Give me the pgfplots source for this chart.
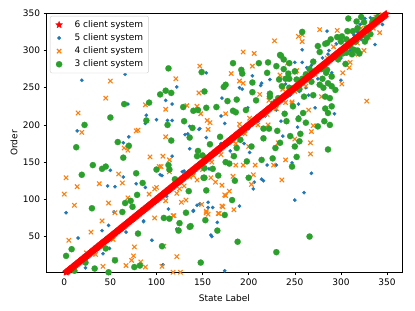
\documentclass[border=0pt]{standalone}
\usepackage{fontspec}
\setmainfont{DejaVu Sans}
\usepackage{pgfplots}
\pgfplotsset{compat=1.18}
\usepackage{pgfplotstable}
\definecolor{cfive}{HTML}{1F77B4}
\definecolor{cfour}{HTML}{FF7F0E}
\definecolor{cthree}{HTML}{2CA02C}
\pgfdeclareplotmark{fstar}{%
  \pgfpathmoveto{\pgfpointpolar{90}{\pgfplotmarksize}}%
  \pgfpathlineto{\pgfpointpolar{126}{0.45\pgfplotmarksize}}%
  \pgfpathlineto{\pgfpointpolar{162}{\pgfplotmarksize}}%
  \pgfpathlineto{\pgfpointpolar{198}{0.45\pgfplotmarksize}}%
  \pgfpathlineto{\pgfpointpolar{234}{\pgfplotmarksize}}%
  \pgfpathlineto{\pgfpointpolar{270}{0.45\pgfplotmarksize}}%
  \pgfpathlineto{\pgfpointpolar{306}{\pgfplotmarksize}}%
  \pgfpathlineto{\pgfpointpolar{342}{0.45\pgfplotmarksize}}%
  \pgfpathlineto{\pgfpointpolar{18}{\pgfplotmarksize}}%
  \pgfpathlineto{\pgfpointpolar{54}{0.45\pgfplotmarksize}}%
  \pgfpathclose
  \pgfusepathqfillstroke}
\pgfplotstableread[row sep=\\]{
x y\\
0 0\\1 1\\2 2\\3 3\\4 4\\5 5\\6 6\\7 7\\8 8\\9 9\\10 10\\11 11\\12 12\\13 13\\14 14\\15 15\\16 16\\17 17\\18 18\\19 19\\
20 20\\21 21\\22 22\\23 23\\24 24\\25 25\\26 26\\27 27\\28 28\\29 29\\30 30\\31 31\\32 32\\33 33\\34 34\\35 35\\36 36\\37 37\\38 38\\39 39\\
40 40\\41 41\\42 42\\43 43\\44 44\\45 45\\46 46\\47 47\\48 48\\49 49\\50 50\\51 51\\52 52\\53 53\\54 54\\55 55\\56 56\\57 57\\58 58\\59 59\\
60 60\\61 61\\62 62\\63 63\\64 64\\65 65\\66 66\\67 67\\68 68\\69 69\\70 70\\71 71\\72 72\\73 73\\74 74\\75 75\\76 76\\77 77\\78 78\\79 79\\
80 80\\81 81\\82 82\\83 83\\84 84\\85 85\\86 86\\87 87\\88 88\\89 89\\90 90\\91 91\\92 92\\93 93\\94 94\\95 95\\96 96\\97 97\\98 98\\99 99\\
100 100\\101 101\\102 102\\103 103\\104 104\\105 105\\106 106\\107 107\\108 108\\109 109\\110 110\\111 111\\112 112\\113 113\\114 114\\115 115\\116 116\\117 117\\118 118\\119 119\\
120 120\\121 121\\122 122\\123 123\\124 124\\125 125\\126 126\\127 127\\128 128\\129 129\\130 130\\131 131\\132 132\\133 133\\134 134\\135 135\\136 136\\137 137\\138 138\\139 139\\
140 140\\141 141\\142 142\\143 143\\144 144\\145 145\\146 146\\147 147\\148 148\\149 149\\150 150\\151 151\\152 152\\153 153\\154 154\\155 155\\156 156\\157 157\\158 158\\159 159\\
160 160\\161 161\\162 162\\163 163\\164 164\\165 165\\166 166\\167 167\\168 168\\169 169\\170 170\\171 171\\172 172\\173 173\\174 174\\175 175\\176 176\\177 177\\178 178\\179 179\\
180 180\\181 181\\182 182\\183 183\\184 184\\185 185\\186 186\\187 187\\188 188\\189 189\\190 190\\191 191\\192 192\\193 193\\194 194\\195 195\\196 196\\197 197\\198 198\\199 199\\
200 200\\201 201\\202 202\\203 203\\204 204\\205 205\\206 206\\207 207\\208 208\\209 209\\210 210\\211 211\\212 212\\213 213\\214 214\\215 215\\216 216\\217 217\\218 218\\219 219\\
220 220\\221 221\\222 222\\223 223\\224 224\\225 225\\226 226\\227 227\\228 228\\229 229\\230 230\\231 231\\232 232\\233 233\\234 234\\235 235\\236 236\\237 237\\238 238\\239 239\\
240 240\\241 241\\242 242\\243 243\\244 244\\245 245\\246 246\\247 247\\248 248\\249 249\\250 250\\251 251\\252 252\\253 253\\254 254\\255 255\\256 256\\257 257\\258 258\\259 259\\
260 260\\261 261\\262 262\\263 263\\264 264\\265 265\\266 266\\267 267\\268 268\\269 269\\270 270\\271 271\\272 272\\273 273\\274 274\\275 275\\276 276\\277 277\\278 278\\279 279\\
280 280\\281 281\\282 282\\283 283\\284 284\\285 285\\286 286\\287 287\\288 288\\289 289\\290 290\\291 291\\292 292\\293 293\\294 294\\295 295\\296 296\\297 297\\298 298\\299 299\\
300 300\\301 301\\302 302\\303 303\\304 304\\305 305\\306 306\\307 307\\308 308\\309 309\\310 310\\311 311\\312 312\\313 313\\314 314\\315 315\\316 316\\317 317\\318 318\\319 319\\
320 320\\321 321\\322 322\\323 323\\324 324\\325 325\\326 326\\327 327\\328 328\\329 329\\330 330\\331 331\\332 332\\333 333\\334 334\\335 335\\336 336\\337 337\\338 338\\339 339\\
340 340\\341 341\\342 342\\343 343\\344 344\\345 345\\346 346\\347 347\\348 348\\349 349\\
}\sixclient
\begin{document}
\begin{tikzpicture}
\useasboundingbox (-46bp,-38.3bp) rectangle (369bp,272.7bp);
\begin{axis}[
  at={(0,0)}, anchor=south west, scale only axis,
  width=356.7bp, height=259.4bp,
  xmin=-19.8, xmax=367, ymin=1.4, ymax=350,
  xtick={0,50,...,350}, ytick={50,100,...,350},
  tick align=outside, major tick length=2.4bp,
  every tick/.style={black, line width=0.55bp},
  axis line style={line width=0.6bp, black},
  tick pos=left,
  /pgf/number format/assume math mode=true,
  tick label style={font=\fontsize{9bp}{10bp}\selectfont},
  every axis x label/.style={at={(rel axis cs:0.5,-0.0987)}, anchor=center, font=\fontsize{9bp}{10bp}\selectfont},
  every axis y label/.style={at={(rel axis cs:-0.0897,0.5)}, anchor=center, rotate=90, font=\fontsize{9bp}{10bp}\selectfont},
  xlabel={State Label}, ylabel={Order},
  legend cell align=left,
  legend image code/.code={\path[draw=none,fill=none] (-6bp,-1bp) rectangle (6bp,1bp); \draw[#1,only marks] plot coordinates {(0bp,0bp)};},
  legend style={at={(0.011,0.99)}, anchor=north west, draw=black!20, rounded corners=2bp,
    font=\fontsize{9bp}{10bp}\selectfont, nodes={inner sep=2.4bp}, inner xsep=3bp, inner ysep=2.2bp,
    /tikz/every odd column/.append style={column sep=7bp}},
]
\addplot[only marks, mark=fstar, mark size=3.6bp, red, fill=red, line width=0.3bp] table {\sixclient};
\addlegendentry{6 client system}
\addplot[only marks, mark=*, mark size=1.75bp, cfive, fill=cfive, line width=0.2bp] coordinates {
(19,260) (66,268) (69,228) (14,192) (70,184) (64,176) (50,139) (64,130) (47,118) (78,121)
(54,83) (2,82) (48,65) (41,58) (67,56) (15,48) (49,34) (42,27) (23,8) (55,117)
(86,71) (111,104) (113,87) (95,45) (107,12) (124,60) (128,137) (140,85) (147,94) (160,50)
(104,133) (106,132) (117,158) (174,4) (159,52) (166,69) (190,91) (161,89) (156,96) (205,114)
(206,123) (216,125) (214,127) (250,99) (260,109) (268,135) (220,146) (230,146) (247,149) (136,168)
(88,116) (130,138) (157,141) (144,92) (156,89) (140,84) (86,70) (122,60) (154,270) (122,251)
(110,233) (117,228) (89,213) (100,207) (112,206) (117,206) (146,194) (134,188) (170,212) (204,266)
(214,256) (223,261) (190,250) (193,248) (250,284) (258,301) (263,277) (285,326) (295,309) (337,308)
(286,295) (293,215) (258,284) (213,253) (254,228) (171,236) (199,223) (237,185) (254,211) (253,197)
(154,183) (174,202) (201,163) (272,223) (321,335) (332,344) (314,321) (88,202) (136,198) (147,195)
(131,187) (230,220) (245,240) (262,250) (275,262) (300,290) (310,300) (322,315) (330,330) (340,340)
(300,260) (318,325) (326,343) (345,335) (290,270) (280,290) (265,240) (235,205) (218,212) (200,195)
(185,185) (170,175) (180,165) (195,175) (210,205) (225,230) (240,255) (255,245) (268,280) (287,300)
};
\addlegendentry{5 client system}
\addplot[only marks, mark=x, mark size=3.1bp, cfour, line width=1.1bp] coordinates {
(50,259) (45,236) (15,216) (19,190) (78,192) (65,169) (69,166) (59,134) (2,129) (14,117)
(38,121) (63,122) (0,107) (11,92) (48,95) (69,102) (55,82) (41,71) (29,56) (5,45)
(53,46) (24,28) (34,26) (42,10) (55,19) (67,11) (73,18) (75,24) (76,36) (88,9)
(92,107) (98,114) (105,144) (107,158) (98,75) (108,37) (106,10) (122,23) (126,2) (127,96)
(132,99) (119,78) (125,114) (144,126) (149,93) (168,81) (154,82) (184,86) (172,90) (179,111)
(174,106) (203,120) (183,131) (236,126) (205,133) (186,146) (194,146) (207,146) (227,146) (240,153)
(267,161) (93,157) (114,153) (103,144) (114,137) (100,116) (136,130) (159,129) (164,123) (171,119)
(175,105) (154,84) (171,91) (156,80) (167,81) (118,78) (83,16) (118,2) (147,279) (121,262)
(146,243) (88,227) (110,221) (133,226) (144,225) (148,215) (155,206) (158,203) (175,215) (110,184)
(80,193) (156,194) (254,319) (228,313) (194,298) (206,296) (242,283) (204,279) (181,269) (251,271)
(190,259) (194,256) (237,248) (212,241) (222,233) (247,231) (190,201) (277,328) (296,327) (298,317)
(310,284) (309,277) (301,255) (328,232) (258,321) (258,312) (342,324) (252,273) (234,267) (237,251)
(247,229) (265,220) (279,238) (270,199) (268,191) (267,176) (250,181) (232,176) (221,200) (201,209)
(191,195) (183,159) (200,171) (310,325) (318,310) (335,330) (340,338) (330,318) (325,300) (300,300)
(292,305) (285,290) (272,268) (262,252) (250,245) (240,230) (230,222) (220,214) (210,200) (196,188)
(186,175) (170,160) (160,150) (150,140) (140,132) (130,118) (122,108) (110,98) (290,265) (302,270)
(315,295) (345,348) (338,345) (322,330)
};
\addlegendentry{4 client system}
\addplot[only marks, mark=*, mark size=3.1bp, cthree, fill=cthree, line width=0.2bp] coordinates {
(65,228) (50,210) (22,200) (58,177) (13,170) (70,172) (64,156) (31,146) (41,141) (45,144)
(78,135) (19,133) (66,95) (72,98) (30,88) (63,83) (80,54) (8,33) (45,34) (2,24)
(23,15) (33,7) (48,2) (76,9) (11,4) (55,18) (85,122) (79,106) (74,90) (82,11)
(100,140) (113,146) (114,140) (108,75) (114,74) (106,37) (124,58) (125,68) (132,82) (137,64)
(135,111) (120,127) (154,112) (152,129) (148,15) (188,43) (166,58) (153,72) (174,79) (182,99)
(200,129) (185,125) (266,50) (230,29) (167,132) (179,148) (184,158) (198,151) (214,153) (226,155)
(247,144) (252,157) (286,167) (145,165) (144,158) (158,174) (152,142) (161,141) (151,129) (175,150)
(136,63) (113,276) (149,271) (104,241) (110,246) (116,243) (152,245) (92,230) (129,224) (140,219)
(145,220) (154,223) (165,224) (175,254) (89,206) (130,205) (112,200) (139,196) (136,183) (116,179)
(258,325) (183,283) (211,283) (221,284) (235,293) (230,279) (238,275) (192,274) (193,269) (220,270)
(204,257) (233,261) (236,252) (204,244) (223,242) (177,232) (208,233) (235,235) (197,220) (183,219)
(186,217) (239,215) (254,208) (262,203) (241,205) (216,195) (222,195) (231,192) (308,343) (307,326)
(275,306) (283,309) (277,298) (283,222) (275,198) (322,345) (317,339) (301,319) (306,315) (285,310)
(313,326) (328,317) (335,341) (288,288) (297,288) (306,297) (314,301) (285,274) (290,265) (277,254)
(234,294) (238,288) (244,283) (173,251) (187,234) (223,238) (244,262) (252,261) (243,269) (248,225)
(259,216) (232,236) (229,231) (286,216) (282,205) (288,200) (288,236) (283,238) (290,252) (286,256)
(294,247) (290,225) (256,188) (245,185) (255,178) (250,171) (234,176) (229,169) (216,182) (203,171)
(187,169) (191,180) (150,159) (169,184) (280,262) (281,250) (284,270) (279,275) (298,292) (302,296)
(310,305) (316,312) (322,320) (328,330) (334,338) (340,345) (318,330) (325,338) (300,312) (296,318)
(289,315) (312,295) (318,300) (326,312) (332,322) (305,282) (320,296) (270,285) (266,275) (262,268)
(268,258) (258,262) (255,248) (260,238) (270,240) (250,272) (244,250) (240,262)
};
\addlegendentry{3 client system}
\addplot[only marks, mark=fstar, mark size=3.6bp, red, fill=red, line width=0.3bp, forget plot] table {\sixclient};
\end{axis}
\end{tikzpicture}
\end{document}
